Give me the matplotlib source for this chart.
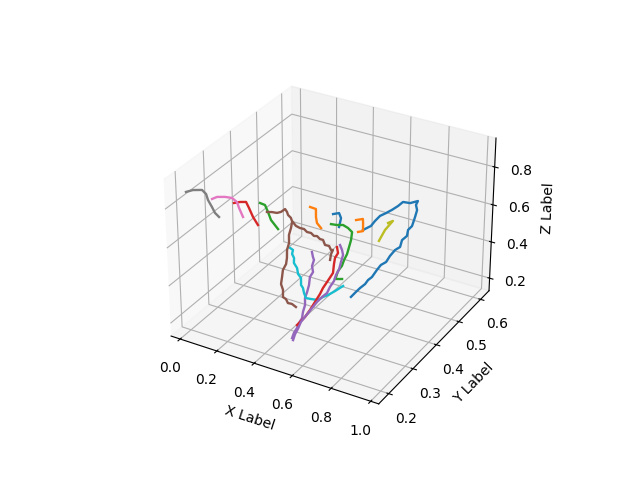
import matplotlib
matplotlib.use("Agg")
import matplotlib.pyplot as plt

# x and z of each walk, y is one depth per walk
x0 = [.655,.681,.702,.728,.743,.763,.788,.808,.834,.853,.878,.903,.912,.936,.941,.96,.974,.983,.977,.986,.948,.913,.889,.859,.83,.8,.775,.755,.715]
z0 = [.329,.364,.391,.42,.446,.468,.513,.545,.568,.605,.643,.666,.704,.732,.764,.789,.839,.876,.9,.922,.901,.897,.87,.842,.818,.795,.762,.731,.699]
x1 = [.509,.539,.539,.544,.565]
z1 = [.814,.812,.771,.742,.722]
x2 = [.319,.345,.36,.375,.411]
z2 = [.836,.833,.802,.765,.729]
x3 = [.182,.214,.246,.261,.281,.306]
z3 = [.798,.812,.821,.794,.754,.72]
x4 = [.652,.657,.662,.652,.657,.641,.636,.626,.615,.615,.604,.599,.583,.572,.556,.546]
z4 = [.74,.716,.703,.669,.64,.61,.567,.528,.494,.457,.418,.384,.353,.323,.292,.261]
x5 = [.283,.31,.336,.357,.379,.389,.394,.409,.414,.435,.456,.477,.492,.513,.528,.544,.559,.575,.585,.606,.616,.626,.616,.611]
z5 = [.725,.732,.735,.746,.767,.755,.741,.73,.716,.696,.691,.692,.681,.682,.671,.675,.664,.664,.641,.642,.624,.627,.603,.571]
x6 = [.065,.092,.135,.172,.198,.208,.228]
z6 = [.786,.804,.816,.821,.807,.78,.739]
x7 = [-.028,.01,.059,.08,.089,.109,.124,.145]
z7 = [.829,.849,.863,.848,.82,.79,.764,.749]
x8 = [.673,.704,.744,.719]
z8 = [.516,.583,.642,.624]
x9 = [.472,.487,.482,.492,.491,.507,.512,.527,.527,.537,.542,.552,.578,.614,.64,.666,.702,.743]
z9 = [.65,.644,.622,.604,.578,.557,.527,.511,.474,.461,.437,.413,.416,.422,.446,.464,.496,.535]
x10 = [.561,.592,.602,.592]
z10 = [.737,.751,.728,.679]
x11 = [.552,.588,.589,.589,.563]
z11 = [.592,.608,.587,.544,.532]
x12 = [.616,.647,.677,.702,.723,.718,.708,.698,.683,.672,.652,.642,.636,.657,.673]
z12 = [.757,.761,.77,.762,.747,.705,.666,.627,.592,.558,.526,.491,.479,.485,.49]
x13 = [.751,.756,.741,.736,.731,.711,.68,.665,.639,.613,.587,.561,.545]
z13 = [.771,.742,.713,.681,.634,.597,.541,.506,.456,.406,.361,.326,.305]
x14 = [.792,.802,.807,.797,.787,.772,.762,.742,.727,.702,.676,.651,.614,.593,.577,.562,.551]
z14 = [.816,.794,.771,.733,.69,.66,.626,.59,.554,.526,.492,.453,.395,.362,.32,.288,.252]
x15 = [.484,.478,.467,.467,.456,.455,.45,.433,.428,.422,.432,.431,.447,.457,.478,.499]
z15 = [.786,.754,.715,.674,.635,.593,.56,.524,.486,.447,.419,.381,.375,.357,.359,.349]
depths = [.35, .30, .25, .25, .20, .30, .25, .22, .45, .25, .35, .45, .30, .22, .20, .25]
xs = [x0, x1, x2, x3, x4, x5, x6, x7, x8, x9, x10, x11, x12, x13, x14, x15]
zs = [z0, z1, z2, z3, z4, z5, z6, z7, z8, z9, z10, z11, z12, z13, z14, z15]

fig = plt.figure()
ax = fig.add_subplot(projection="3d")
for x, d, z in zip(xs, depths, zs):
    ax.plot(x, [d] * len(x), z, lw=1.7)

ax.set_xlim(-0.05, 1.04)
ax.set_ylim(0.16, 0.64)
ax.set_zlim(0.13, 0.95)
ax.set_zticks([0.2, 0.4, 0.6, 0.8])
ax.set_xlabel("X Label")
ax.set_ylabel("Y Label")
ax.set_zlabel("Z Label")
fig.savefig("out.png")
